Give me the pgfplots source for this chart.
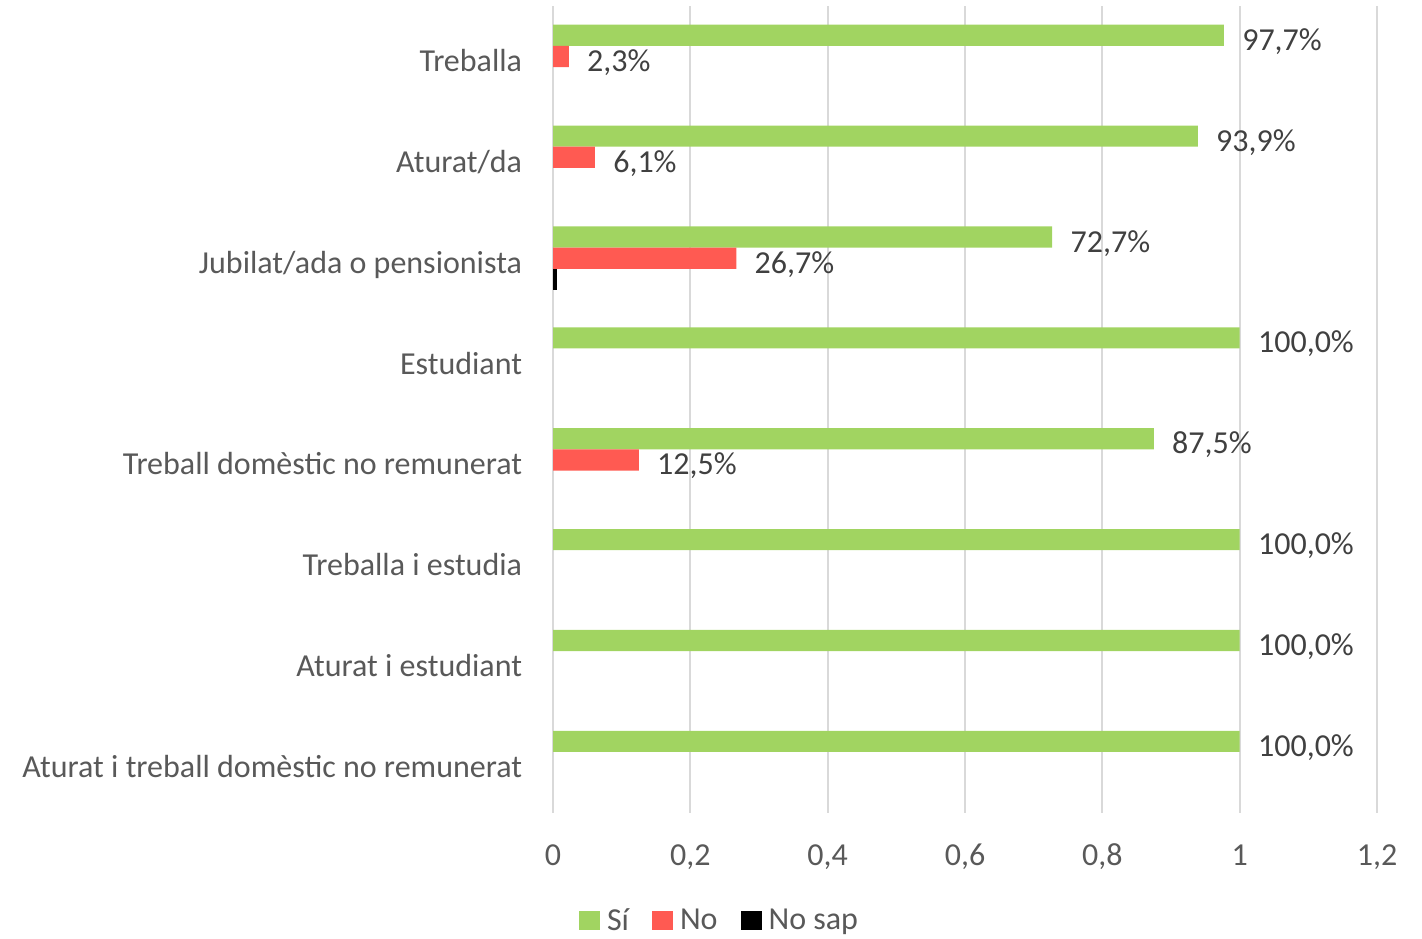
\documentclass[border=0pt]{standalone}
\usepackage{pgfplots}
\pgfplotsset{compat=1.18}
\usepackage{fontspec}
\setmainfont{Carlito}
\definecolor{cSi}{HTML}{A1D461}
\definecolor{cNo}{HTML}{FF5A52}
\definecolor{txt}{HTML}{595959}
\definecolor{lbl}{HTML}{404040}
\definecolor{grd}{HTML}{D9D9D9}
\begin{document}
\begin{tikzpicture}
\useasboundingbox (0,0) rectangle (711pt,469pt);
\begin{axis}[
 at={(276.5pt,62.5pt)}, anchor=south west,
 scale only axis, width=412pt, height=403.5pt,
 xmin=0, xmax=1.2, ymin=-0.5, ymax=7.5, y dir=reverse,
 xbar, bar width=0.21,
 xtick={0,0.2,0.4,0.6,0.8,1,1.2},
 xticklabels={0,{0,2},{0,4},{0,6},{0,8},1,{1,2}},
 ytick={0,1,2,3,4,5,6,7},
 yticklabels={Treballa, Aturat/da, Jubilat/ada o pensionista, Estudiant, Treball domèstic no remunerat, Treballa i estudia, Aturat i estudiant, Aturat i treball domèstic no remunerat},
 xmajorgrids, major grid style={grd, line width=1pt},
 axis line style={draw=none}, major tick style={draw=none},
 font=\fontsize{16}{19}\selectfont,
 ticklabel style={text=txt},
 yticklabel style={anchor=east, inner sep=0pt, xshift=-11pt, yshift=-3.3pt, text height=0.84em, text depth=0pt},
 xticklabel style={anchor=north, inner sep=0pt, yshift=-19.5pt, text height=0.65em, text depth=0pt},
 legend columns=3,
 legend image code/.code={\fill[#1] (0pt,-4.75pt) rectangle (10.5pt,4.75pt);},
 legend style={draw=none, fill=none, at={(0.2027,-0.1338)}, anchor=center,
   font=\fontsize{16}{19}\selectfont, text=txt,
   /tikz/every odd column/.append style={column sep=2pt},
   /tikz/every even column/.append style={column sep=10pt},
   nodes={inner sep=1.5pt}},
]
\addplot[fill=cSi, draw=none, bar shift=-0.21, point meta={x*100},
  nodes near coords={\pgfmathprintnumber[fixed,fixed zerofill,precision=1,use comma,assume math mode=true]{\pgfplotspointmeta}\%},
  every node near coord/.append style={anchor=west, inner sep=0pt, xshift=9pt, yshift=-3.3pt, text height=0.84em, text depth=0pt, text=lbl}]
 coordinates {(0.977,0) (0.939,1) (0.727,2) (1.0,3) (0.875,4) (1.0,5) (1.0,6) (1.0,7)};
\addlegendentry{Sí}
\addplot[fill=cNo, draw=none, bar shift=0, point meta={x*100},
  nodes near coords={\pgfmathprintnumber[fixed,fixed zerofill,precision=1,use comma,assume math mode=true]{\pgfplotspointmeta}\%},
  every node near coord/.append style={anchor=west, inner sep=0pt, xshift=9pt, yshift=-3.3pt, text height=0.84em, text depth=0pt, text=lbl}]
 coordinates {(0.023,0) (0.061,1) (0.267,2) (0.125,4)};
\addlegendentry{No}
\addplot[fill=black, draw=none, bar shift=0.21]
 coordinates {(0.006,2)};
\addlegendentry{No sap}
\end{axis}
\end{tikzpicture}
\end{document}
